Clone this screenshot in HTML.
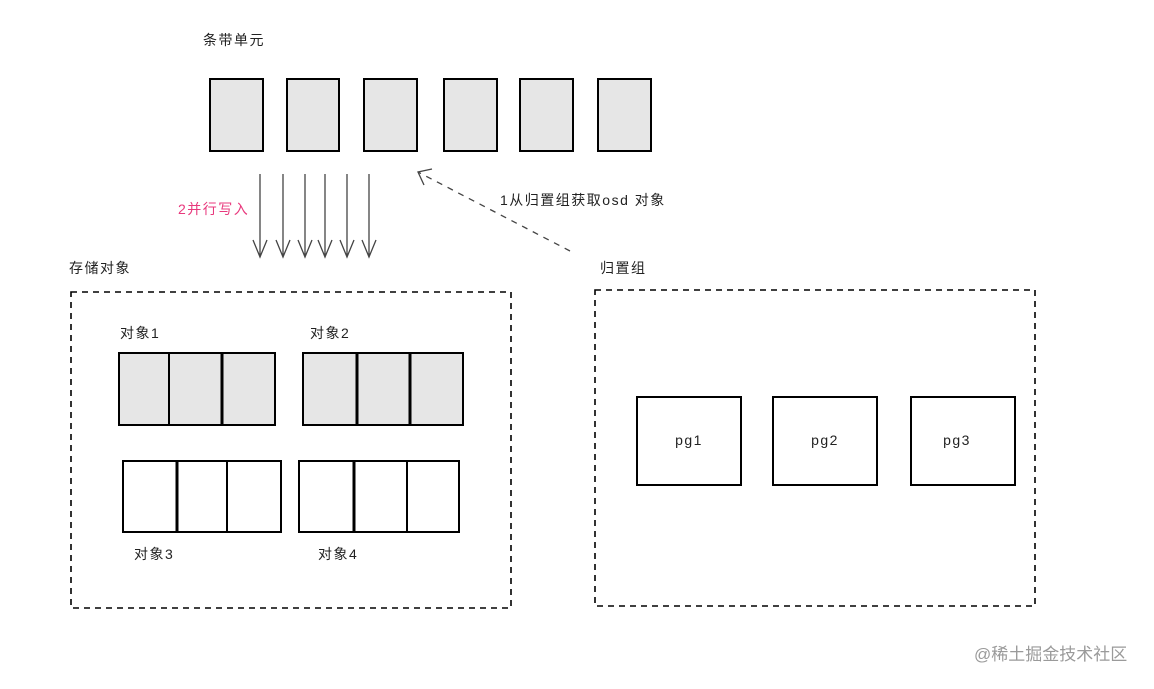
<!DOCTYPE html>
<html><head><meta charset="utf-8"><style>
html,body{margin:0;padding:0;background:#fff;}
svg text{font-family:"Liberation Sans","Noto Sans CJK SC",sans-serif;font-size:14px;letter-spacing:1.5px;fill:#222;}
</style></head><body>
<svg width="1154" height="684" viewBox="0 0 1154 684" xmlns="http://www.w3.org/2000/svg">
<g fill="#e6e6e6" stroke="#000" stroke-width="2">
<rect x="210" y="79" width="53" height="72"/>
<rect x="287" y="79" width="52" height="72"/>
<rect x="364" y="79" width="53" height="72"/>
<rect x="444" y="79" width="53" height="72"/>
<rect x="520" y="79" width="53" height="72"/>
<rect x="598" y="79" width="53" height="72"/>
</g>
<text x="203" y="45">条带单元</text>
<g stroke="#444" stroke-width="1.3" fill="none">
<path d="M260 174V257M253 240L260 257L267 240"/>
<path d="M283 174V257M276 240L283 257L290 240"/>
<path d="M305 174V257M298 240L305 257L312 240"/>
<path d="M325 174V257M318 240L325 257L332 240"/>
<path d="M347 174V257M340 240L347 257L354 240"/>
<path d="M369 174V257M362 240L369 257L376 240"/>
<path d="M570 251L418 172" stroke-dasharray="6,6"/>
<path d="M432 169L418 172L424 185"/>
</g>
<text x="178" y="214" style="fill:#e8397d">2并行写入</text>
<text x="500" y="205">1从归置组获取osd 对象</text>
<text x="69" y="273">存储对象</text>
<text x="600" y="273">归置组</text>
<g fill="none" stroke="#000" stroke-width="1.6" stroke-dasharray="6,5">
<rect x="71" y="292" width="440" height="316"/>
<rect x="595" y="290" width="440" height="316"/>
</g>
<g stroke="#000" stroke-width="2">
<rect x="119" y="353" width="156" height="72" fill="#e6e6e6"/>
<line x1="169" y1="353" x2="169" y2="425"/><line x1="222" y1="353" x2="222" y2="425" stroke-width="3"/>
<rect x="303" y="353" width="160" height="72" fill="#e6e6e6"/>
<line x1="357" y1="353" x2="357" y2="425" stroke-width="3"/><line x1="410" y1="353" x2="410" y2="425" stroke-width="3"/>
<rect x="123" y="461" width="158" height="71" fill="#fff"/>
<line x1="177" y1="461" x2="177" y2="532" stroke-width="3"/><line x1="227" y1="461" x2="227" y2="532"/>
<rect x="299" y="461" width="160" height="71" fill="#fff"/>
<line x1="354" y1="461" x2="354" y2="532" stroke-width="3"/><line x1="407" y1="461" x2="407" y2="532"/>
<rect x="637" y="397" width="104" height="88" fill="#fff"/>
<rect x="773" y="397" width="104" height="88" fill="#fff"/>
<rect x="911" y="397" width="104" height="88" fill="#fff"/>
</g>
<text x="120" y="338">对象1</text>
<text x="310" y="338">对象2</text>
<text x="134" y="559">对象3</text>
<text x="318" y="559">对象4</text>
<text x="689" y="445" text-anchor="middle">pg1</text>
<text x="825" y="445" text-anchor="middle">pg2</text>
<text x="957" y="445" text-anchor="middle">pg3</text>
<text x="974" y="660" style="font-size:17px;letter-spacing:0;fill:#9a9a9a">@稀土掘金技术社区</text>
</svg>
</body></html>
